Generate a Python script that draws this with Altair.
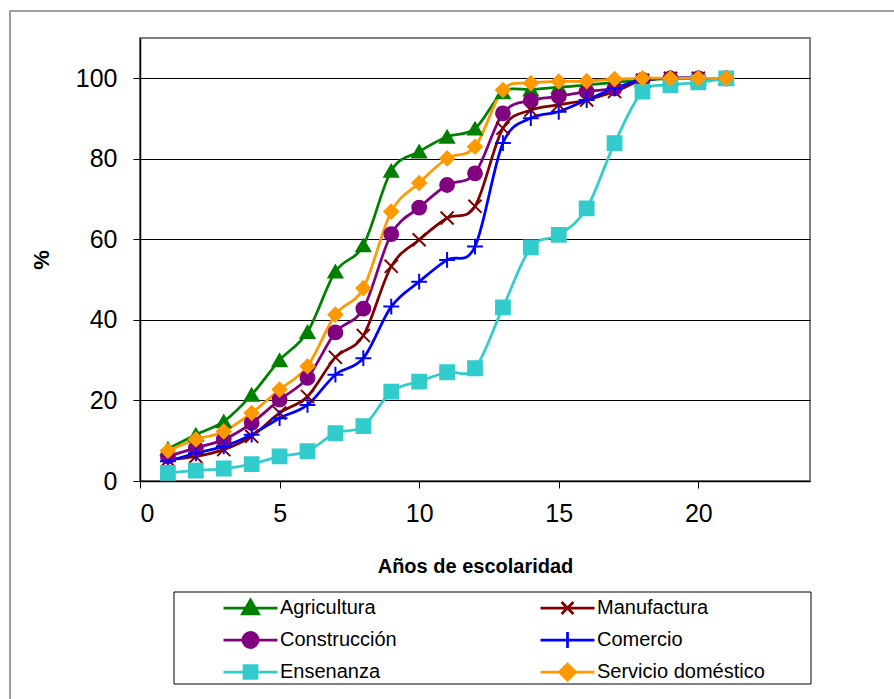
import altair as alt
import pandas as pd

anios = list(range(1, 22))
series = ["Agricultura", "Manufactura", "Construcción", "Comercio", "Ensenanza", "Servicio doméstico"]
colores = ["#008000", "#800000", "#800080", "#0000FF", "#33CCCC", "#FF9900"]

agricultura = [8, 11.5, 14.8, 21.4, 30, 37, 52, 58.5, 77, 81.8, 85.5, 87.5, 96.5, 97.2, 97.8, 98.3, 99, 99.5, 100, 100, 100]
manufactura = [5.3, 6.1, 7.8, 11.1, 16.9, 21, 30.7, 36.1, 53.3, 59.9, 65.3, 68.2, 87.6, 92.1, 93.4, 94.6, 96.7, 99.5, 100, 100, 100]
construccion = [6.1, 8.2, 10.3, 14.4, 20.2, 25.6, 36.9, 42.8, 61.3, 67.9, 73.5, 76.4, 91.3, 94.5, 95.5, 96.7, 97.5, 99.6, 100, 100, 100]
comercio = [4.9, 6.9, 8.6, 11.5, 15.6, 18.9, 26.4, 30.5, 43.3, 49.5, 54.9, 58.2, 83.9, 90.1, 91.7, 94.6, 97.5, 99.6, 100, 100, 100]
ensenanza = [2, 2.6, 3.1, 4.2, 6.1, 7.4, 11.9, 13.6, 22.2, 24.7, 27, 28, 43.1, 58, 61.1, 67.7, 83.9, 96.7, 98.3, 99, 100]
servicio = [7.5, 10.3, 12.3, 16.9, 22.7, 28.5, 41.3, 47.9, 66.9, 74, 80.1, 83, 97.1, 98.8, 99.2, 99.3, 99.8, 100, 100, 100, 100]

x_ticks = [0, 5, 10, 15, 20]
y_ticks = [0, 20, 40, 60, 80, 100]

# marker shapes in the plot
plot_shapes = [
    "triangle-up",
    "M-0.95,-0.95L0.95,0.95M-0.95,0.95L0.95,-0.95",
    "circle",
    "M-1.15,0H1.15M0,-1.15V1.15",
    "square",
    "diamond",
]
# legend symbols: a line with the marker on it
legend_shapes = [
    "M-1,0H1M0,-0.3L0.3,0.22L-0.3,0.22Z",
    "M-1,0H1M-0.22,-0.22L0.22,0.22M-0.22,0.22L0.22,-0.22",
    "M-1,0H1M-0.28,0A0.28,0.28,0,1,1,0.28,0A0.28,0.28,0,1,1,-0.28,0Z",
    "M-1,0H1M0,-0.3V0.3",
    "M-1,0H1M-0.24,-0.24H0.24V0.24H-0.24Z",
    "M-1,0H1M0,-0.3L0.3,0L0,0.3L-0.3,0Z",
]

rows = []
for nombre, vals in zip(series, [agricultura, manufactura, construccion, comercio, ensenanza, servicio]):
    for a, v in zip(anios, vals):
        rows.append({"Serie": nombre, "anios": a, "pct": v})
df = pd.DataFrame(rows)

FONT = "Liberation Sans"

x = alt.X("anios:Q", scale=alt.Scale(domain=[0, 24], nice=False),
          axis=alt.Axis(values=x_ticks, title="Años de escolaridad", grid=False,
                        labelFont=FONT, labelFontSize=25, labelColor="black", labelPadding=13,
                        tickColor="black", tickSize=7, tickWidth=1, domainColor="black", domainWidth=1.5,
                        titleFont=FONT, titleFontSize=20, titleFontWeight="bold", titleColor="black",
                        titlePadding=30))
y = alt.Y("pct:Q", scale=alt.Scale(domain=[0, 110], nice=False),
          axis=alt.Axis(values=y_ticks, title="%", grid=True, gridColor="black", gridWidth=1,
                        labelFont=FONT, labelFontSize=25, labelColor="black", labelPadding=16,
                        tickColor="black", tickSize=7, tickWidth=1, domainColor="black", domainWidth=1.5,
                        titleFont=FONT, titleFontSize=22, titleFontWeight="bold", titleColor="black",
                        titlePadding=22))

sc = alt.Scale(domain=series, range=colores)

frame = alt.Chart(pd.DataFrame({"k": [0]})).mark_rect(fill="transparent", stroke="#808080", strokeWidth=1.5).encode(
    x=alt.value(-130), x2=alt.value(900), y=alt.value(-27), y2=alt.value(800))

legend_box = alt.Chart(pd.DataFrame({"k": [0]})).mark_rect(fill="white", stroke="black", strokeWidth=1).encode(
    x=alt.value(34), x2=alt.value(671), y=alt.value(554), y2=alt.value(646))

lines = alt.Chart(df).mark_line(interpolate="cardinal", tension=0, strokeWidth=2.75).encode(
    x=x, y=y, color=alt.Color("Serie:N", scale=sc, legend=None, sort=series))

points = alt.Chart(df).mark_point(size=190, opacity=1, strokeWidth=2).encode(
    x=x, y=y,
    fill=alt.Fill("Serie:N", scale=sc, legend=None),
    stroke=alt.Stroke("Serie:N", scale=sc, legend=None),
    shape=alt.Shape("Serie:N", scale=alt.Scale(domain=series, range=plot_shapes), legend=None))

leg = alt.Legend(title=None, orient="none", legendX=82, legendY=554, columns=2, direction="horizontal",
                 symbolSize=2916, symbolStrokeWidth=2.75, symbolOpacity=1,
                 labelFont=FONT, labelFontSize=20, labelColor="black", labelOffset=1, labelLimit=400,
                 clipHeight=32, rowPadding=0, columnPadding=91, gridAlign="all", padding=0)

legend_df = pd.DataFrame({"Serie": series, "anios": [1] * 6, "pct": [-50] * 6})
legend_layer = alt.Chart(legend_df).mark_point(clip=True, opacity=1).encode(
    x=x, y=y,
    fill=alt.Fill("Serie:N", scale=sc, legend=leg),
    stroke=alt.Stroke("Serie:N", scale=sc, legend=leg),
    shape=alt.Shape("Serie:N", scale=alt.Scale(domain=series, range=legend_shapes), legend=leg))

chart = alt.layer(frame, legend_box, lines, points, legend_layer).resolve_scale(
    shape="independent", fill="independent", stroke="independent"
).properties(
    width=670, height=443,
    autosize=alt.AutoSizeParams(type="none"),
    padding={"left": 140, "top": 38, "right": 84, "bottom": 218},
).configure_view(stroke="#808080", strokeWidth=2)

chart.save("out.html", embed_options={"renderer": "svg", "actions": False})
